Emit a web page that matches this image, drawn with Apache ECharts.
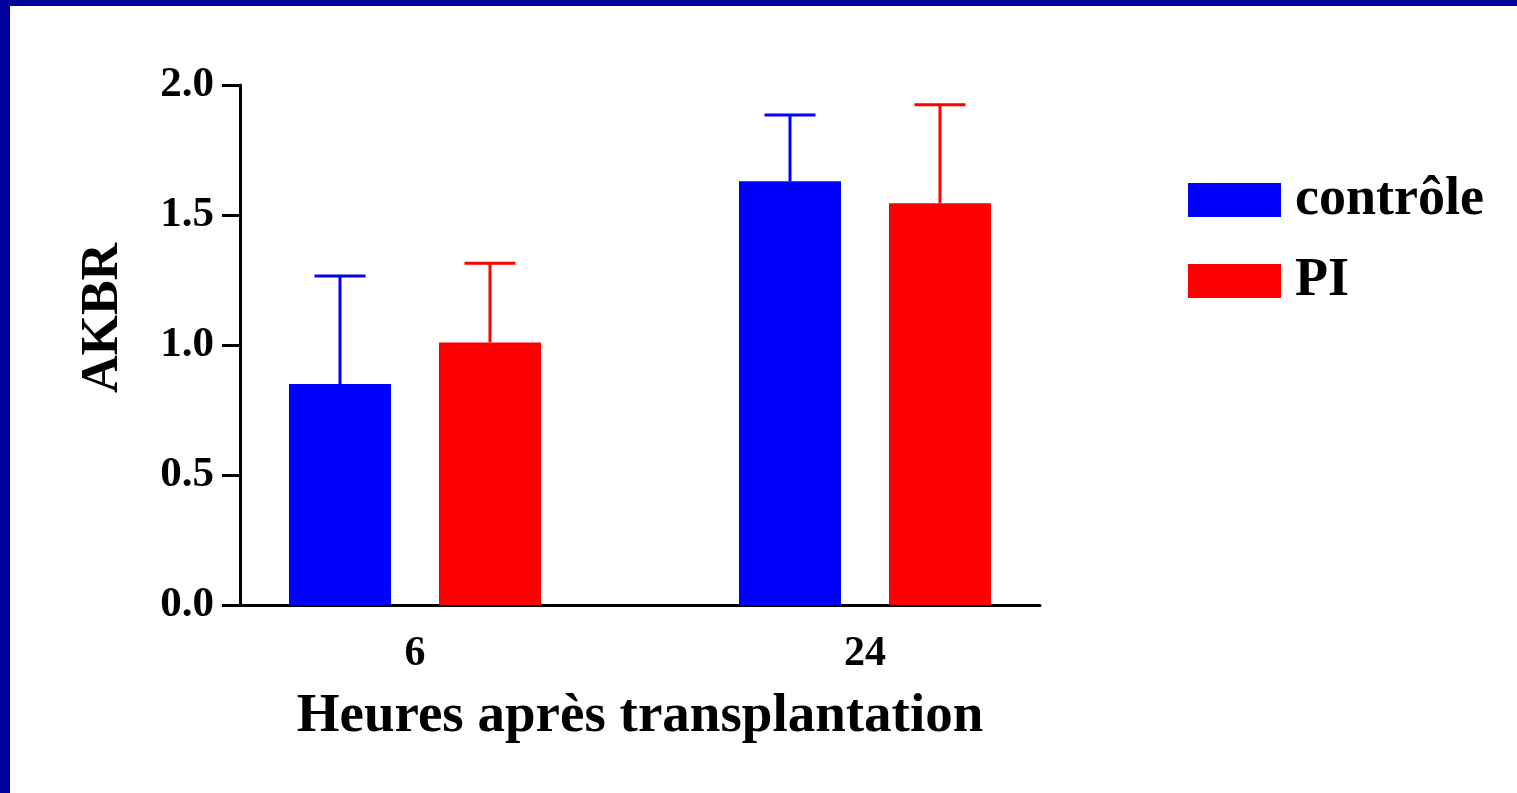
<!DOCTYPE html>
<html>
<head>
<meta charset="utf-8">
<title>AKBR</title>
<script src="https://cdn.jsdelivr.net/npm/echarts@6/dist/echarts.min.js"></script>
<style>
  html, body { margin: 0; padding: 0; background: #ffffff; }
  #chart { width: 1517px; height: 793px; }
</style>
</head>
<body>
<div id="chart"></div>
<script>
// Hours after transplantation (groups on the x axis)
const categories = ['6', '24'];
// Mean AKBR and upper error (SD) per group
const controleMean = [0.85, 1.63];
const controleErr = [0.415, 0.255];
const piMean = [1.01, 1.545];
const piErr = [0.304, 0.379];
const seriesNames = ['contrôle', 'PI'];
const yTicks = [0, 0.5, 1.0, 1.5, 2.0];

const FONT = '"Liberation Serif", "Times New Roman", serif';

// x axis in "bar slot" units: each bar occupies one slot, groups are 3 slots apart
const SLOT_SPAN = 16 / 3;
const groupCenter = i => 7 / 6 + 3 * i;
const BAR_W = 0.68;

function buildData(means, errs, shift) {
  return means.map((m, i) => [groupCenter(i) + shift, m, errs[i]]);
}

function renderBar(params, api) {
  const x = api.value(0);
  const mean = api.value(1);
  const err = api.value(2);
  const base = api.coord([x, 0]);
  const top = api.coord([x, mean]);
  const cap = api.coord([x, mean + err]);
  const w = api.size([BAR_W, 0])[0];
  const color = api.visual('color');
  return {
    type: 'group',
    children: [
      {
        type: 'line',
        shape: { x1: top[0], y1: top[1], x2: cap[0], y2: cap[1] },
        style: { stroke: color, lineWidth: 3 }
      },
      {
        type: 'line',
        shape: { x1: cap[0] - w / 4, y1: cap[1], x2: cap[0] + w / 4, y2: cap[1] },
        style: { stroke: color, lineWidth: 3 }
      },
      {
        type: 'rect',
        shape: { x: top[0] - w / 2, y: top[1], width: w, height: base[1] - top[1] },
        style: { fill: color }
      }
    ]
  };
}

const chart = echarts.init(document.getElementById('chart'), null, { renderer: 'canvas' });

chart.setOption({
  backgroundColor: '#ffffff',
  animation: false,
  graphic: [
    { type: 'rect', left: 0, top: 0, shape: { width: 1517, height: 6 }, style: { fill: '#00009C' }, z: 100 },
    { type: 'rect', left: 0, top: 0, shape: { width: 10, height: 793 }, style: { fill: '#00009C' }, z: 100 }
  ],
  grid: { left: 240, right: 477, top: 85, bottom: 188 },
  legend: {
    orient: 'vertical',
    left: 1188,
    top: 173,
    padding: 0,
    icon: 'rect',
    itemWidth: 93,
    itemHeight: 34,
    itemGap: 27,
    data: seriesNames,
    textStyle: { fontFamily: FONT, fontWeight: 'bold', fontSize: 54, color: '#000', padding: [4, 0, 0, 9] }
  },
  xAxis: {
    type: 'value',
    min: 0,
    max: SLOT_SPAN,
    splitLine: { show: false },
    axisLine: { show: true, lineStyle: { color: '#000', width: 3 } },
    axisTick: { show: false },
    axisLabel: {
      customValues: categories.map((c, i) => groupCenter(i)),
      formatter: v => {
        const idx = categories.findIndex((c, i) => Math.abs(groupCenter(i) - v) < 1e-6);
        return idx >= 0 ? categories[idx] : '';
      },
      margin: 28,
      fontFamily: FONT,
      fontWeight: 'bold',
      fontSize: 42,
      color: '#000'
    },
    name: 'Heures après transplantation',
    nameLocation: 'middle',
    nameGap: 84,
    nameTextStyle: { fontFamily: FONT, fontWeight: 'bold', fontSize: 55, color: '#000' }
  },
  yAxis: {
    type: 'value',
    min: yTicks[0],
    max: yTicks[yTicks.length - 1],
    interval: 0.5,
    splitLine: { show: false },
    axisLine: { show: true, lineStyle: { color: '#000', width: 3 } },
    axisTick: { show: true, length: 18, lineStyle: { color: '#000', width: 3 } },
    axisLabel: {
      formatter: v => v.toFixed(1),
      margin: 26,
      fontFamily: FONT,
      fontWeight: 'bold',
      fontSize: 43,
      color: '#000',
      padding: [7, 0, 0, 0]
    },
    name: 'AKBR',
    nameLocation: 'middle',
    nameRotate: 90,
    nameGap: 110,
    nameTextStyle: { fontFamily: FONT, fontWeight: 'bold', fontSize: 52, color: '#000', padding: [0, 0, 0, 54] }
  },
  series: [
    {
      name: seriesNames[0],
      type: 'custom',
      renderItem: renderBar,
      itemStyle: { color: '#0000FF' },
      encode: { x: 0, y: 1 },
      data: buildData(controleMean, controleErr, -0.5)
    },
    {
      name: seriesNames[1],
      type: 'custom',
      renderItem: renderBar,
      itemStyle: { color: '#FF0000' },
      encode: { x: 0, y: 1 },
      data: buildData(piMean, piErr, 0.5)
    }
  ]
});
</script>
</body>
</html>
